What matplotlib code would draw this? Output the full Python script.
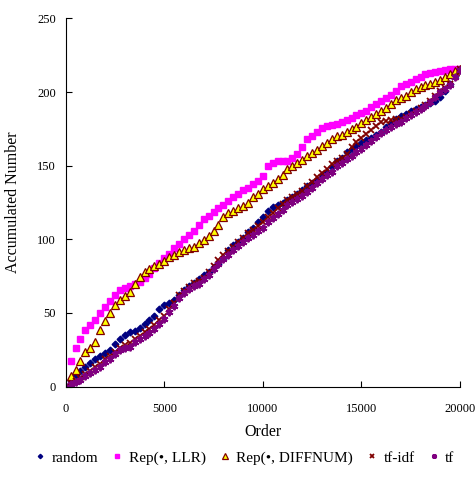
import matplotlib
matplotlib.use("Agg")
import matplotlib.pyplot as plt

plt.rcParams['font.family'] = ['Liberation Serif', 'DejaVu Serif']

# order values sampled every 250
order = list(range(0, 20001, 250))

random_acc = [0, 4, 7.5, 10.5, 13, 16, 18.5, 20.5, 22.5, 25,
              29, 32.5, 35, 37, 38, 39.5, 42.5, 45, 48, 52.5,
              55.5, 57, 58.5, 62.5, 65.5, 68, 70.5, 73, 75.5, 78,
              81.5, 83, 87.5, 93, 96, 98, 101, 105, 108, 111.5,
              115, 119, 122, 123.5, 125, 127, 129, 131, 133.5, 136,
              138, 140.5, 144, 146, 149, 153.5, 155.5, 159, 161.5, 163.5,
              165.5, 167.5, 169, 171, 173, 176, 178.5, 181.5, 183.5, 185,
              187, 188.5, 190, 191.5, 192.5, 194, 197, 201, 205.5, 211, 215]

llr_acc = [0, 17, 26.5, 32, 38.5, 42, 45.5, 50, 54, 58,
           62, 65.5, 67, 68.5, 69.5, 71, 73.5, 76.5, 80.5, 84,
           87, 90, 94, 97, 100, 103, 105.5, 110, 114, 116,
           118.5, 121, 123.5, 126, 128.5, 131, 133.5, 135, 137.5, 139.5,
           143, 150, 151.5, 153, 153, 153, 155, 158, 163, 168,
           170, 173, 175.5, 177, 177.5, 178, 179.5, 181, 182.5, 184.5,
           186, 187.5, 190, 192, 194, 196, 198, 201, 204, 205.5,
           207, 209, 210.5, 212, 213, 213.5, 214.5, 215, 216, 216, 216]

diffnum_acc = [0, 7, 11, 17.5, 23.5, 26, 30, 38.5, 44.5, 50,
               55.5, 58.5, 61.5, 64.5, 69.5, 74.5, 78, 80, 82, 83.5,
               85.5, 88, 89.5, 91.5, 93, 94, 95, 97.5, 99.5, 102.5,
               105.5, 110, 115, 118, 119.5, 121, 122.5, 125, 128.5, 131,
               134, 136.5, 138.5, 141, 144, 147.5, 149.5, 152, 154, 156.5,
               158.5, 161, 163.5, 165.5, 168, 170, 171, 173, 175, 176.5,
               179, 181, 183, 185, 187, 189.5, 192, 194.5, 196, 197.5,
               200, 202, 203.5, 204.5, 205.5, 207, 208, 210.5, 212.5, 214, 215.5]

tfidf_acc = [0, 2.5, 4, 6, 8.5, 10.5, 13, 15, 18.5, 21,
             23.5, 26, 28, 29.5, 32, 34.5, 37, 39, 41.5, 45,
             48, 52.5, 57, 62, 65, 67.5, 70, 71.5, 74, 78,
             82, 86, 89, 92, 95, 98, 101, 104, 106.5, 109,
             111.5, 115, 118, 121, 124, 126.5, 129, 131, 133, 136,
             139, 142, 145, 148, 151, 153.5, 155, 158, 163, 166,
             168.5, 171.5, 174, 177, 179.5, 180.5, 181, 181.5, 182, 183,
             185, 187, 189, 191, 194, 197.5, 200.5, 203, 205.5, 210.5, 216]

tf_acc = [0, 2, 3, 4.5, 7, 9, 11.5, 13.5, 16.5, 19,
          22, 24.5, 26, 27, 30, 32.5, 34.5, 36.5, 39, 42.5,
          46, 50.5, 54.5, 60, 63.5, 66, 68, 69.5, 73, 75.5,
          80, 83.5, 86.5, 89, 92.5, 95.5, 98.5, 101, 103, 105.5,
          108, 111.5, 114.5, 117.5, 120, 123, 125.5, 127.5, 129.5, 132,
          135, 138, 141, 143.5, 146, 149.5, 152, 154.5, 156.5, 159,
          161.5, 164, 166.5, 169.5, 172, 174.5, 176.5, 178, 180, 182.5,
          184.5, 186.5, 188.5, 190.5, 193.5, 197, 200, 202, 204.5, 210, 215]

fig = plt.figure(figsize=(4.75, 4.78), dpi=100)
ax = fig.add_axes([0.1383, 0.1914, 0.8300, 0.7699])

ax.plot(order, random_acc, linestyle='none', marker='D', markersize=3.4,
        color='#000080', label='random')
ax.plot(order, llr_acc, linestyle='none', marker='s', markersize=4.2,
        color='#FF00FF', label='Rep(\u2022, LLR)')
ax.plot(order, diffnum_acc, linestyle='none', marker='^', markersize=5.6,
        markerfacecolor='#FFFF00', markeredgecolor='#800000', markeredgewidth=0.9,
        label='Rep(\u2022, DIFFNUM)')
ax.plot(order, tfidf_acc, linestyle='none', marker='x', markersize=4.5,
        markeredgewidth=1.3, color='#800000', label='tf-idf')
ax.plot(order, tf_acc, linestyle='none', marker=(6, 2, 0), markersize=5.5,
        markeredgewidth=1.4, color='#800080', label='tf')

ax.set_xlim(0, 20000)
ax.set_ylim(0, 250)
ax.set_xticks([0, 5000, 10000, 15000, 20000])
ax.set_yticks([0, 50, 100, 150, 200, 250])
ax.spines['top'].set_visible(False)
ax.spines['right'].set_visible(False)
ax.tick_params(direction='in', length=4, labelsize=9, pad=7)
ax.tick_params(axis='x', pad=12)
ax.set_xlabel('Order', fontsize=11.5, labelpad=6)
ax.set_ylabel('Accumulated Number', fontsize=11.5, labelpad=12)

fig.legend(loc='center', bbox_to_anchor=(0.515, 0.042), ncol=5, frameon=False,
           fontsize=11, handlelength=0.7, handletextpad=0.4, columnspacing=0.9,
           markerscale=0.65)

fig.savefig('out.png', dpi=100)
